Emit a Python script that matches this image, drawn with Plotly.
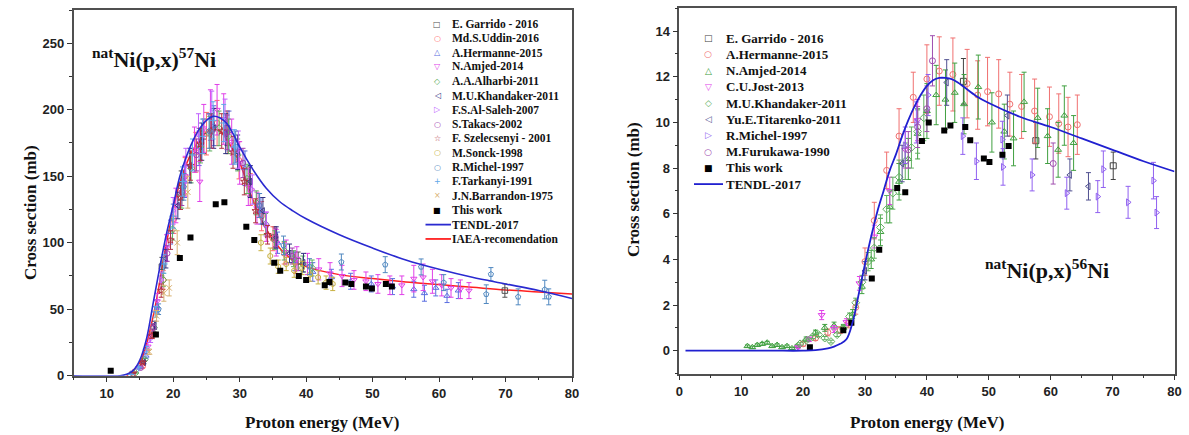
import plotly.graph_objects as go

# ================= LEFT PANEL : natNi(p,x)57Ni =================
L_garrido_E = [18.3, 21.2, 24.6, 28.1, 31.5, 35.2, 38.8, 69.9]
L_garrido_S = [82, 143, 180, 186, 146, 104, 86, 64]
L_garrido_D = [7, 11, 13, 13, 11, 8, 7, 5]

L_uddin_E = [15.4, 16.9, 18.5, 20.1, 21.8, 23.4, 25.0, 26.6, 28.2, 29.9, 31.6, 33.3, 35.0, 36.7, 38.4]
L_uddin_S = [7, 32, 72, 118, 150, 168, 182, 190, 183, 162, 140, 120, 103, 92, 85]
L_uddin_D = [1, 3, 7, 11, 14, 15, 16, 17, 16, 14, 12, 11, 9, 8, 8]

L_herm_E = [15.9, 17.6, 19.6, 21.7, 23.9, 26.1, 28.4, 30.8, 33.2, 35.7, 38.3, 41.0, 43.8, 46.7, 49.8, 53.0, 56.2, 57.8, 59.5, 61.2, 62.9]
L_herm_S = [15, 52, 108, 146, 172, 188, 184, 156, 124, 100, 86, 78, 74, 71, 69, 67, 65, 62, 66, 60, 64]
L_herm_D = [2, 5, 9, 12, 14, 15, 15, 13, 10, 8, 7, 7, 6, 6, 6, 6, 6, 6, 6, 5, 6]

L_amjed_E = [14.8, 16.2, 17.6, 19.0, 20.4, 21.8, 23.2, 24.0, 24.6, 25.6, 26.6, 27.6, 28.8, 30.0, 31.3, 32.6, 34.0, 35.5, 37.0,
             38.6, 40.2, 41.9, 43.6, 45.4, 47.2, 49.0, 50.8, 52.6, 54.4, 56.2, 57.6, 59.0, 60.4, 61.8, 63.2, 64.5]
L_amjed_S = [6, 22, 56, 96, 128, 150, 170, 146, 186, 196, 200, 193, 176, 160, 142, 126, 112, 100, 93,
             88, 84, 80, 77, 75, 72, 71, 69, 68, 68, 73, 74, 71, 68, 66, 65, 64]
L_amjed_D = [1, 3, 6, 10, 13, 15, 17, 15, 18, 19, 19, 19, 17, 16, 14, 12, 11, 10, 9,
             9, 8, 8, 8, 8, 7, 7, 7, 7, 7, 10, 10, 9, 8, 7, 7, 6]

L_alharbi_E = [14.3, 15.7, 17.1, 18.5, 19.9, 21.3, 22.7, 24.1, 25.5, 26.9, 28.3, 29.7, 31.1, 32.5, 33.9, 35.3, 36.7, 38.1, 39.5, 40.9]
L_alharbi_S = [2, 12, 36, 72, 110, 136, 156, 172, 182, 186, 180, 166, 148, 130, 114, 102, 94, 88, 84, 81]
L_alharbi_D = [0.5, 1, 3, 5, 8, 10, 11, 12, 13, 13, 13, 12, 11, 9, 8, 7, 7, 6, 6, 6]

L_khand_E = [15.6, 17.2, 18.9, 20.7, 22.5, 24.3, 26.1, 27.9, 29.7, 31.6, 33.5, 35.5, 37.5, 39.6]
L_khand_S = [10, 38, 88, 128, 158, 176, 186, 182, 168, 146, 124, 104, 92, 85]
L_khand_D = [1, 3, 7, 10, 13, 14, 15, 15, 13, 12, 10, 8, 7, 7]

L_saleh_E = [16.6, 18.2, 20.0, 21.9, 23.8, 25.8, 27.8, 29.8, 31.9, 34.0]
L_saleh_S = [28, 72, 124, 158, 182, 198, 192, 170, 140, 114]
L_saleh_D = [3, 6, 10, 13, 15, 16, 16, 14, 11, 9]

L_takacs_E = [15.1, 17.0, 19.1, 21.3, 23.5, 25.8, 28.1, 30.5, 32.9, 35.4, 37.9]
L_takacs_S = [6, 36, 92, 138, 166, 184, 183, 160, 128, 104, 90]
L_takacs_D = [0.5, 3, 6, 10, 12, 13, 13, 11, 9, 7, 6]

L_szel_E = [14.0, 15.4, 16.8, 18.2, 19.6, 21.1, 22.6, 24.1, 25.7, 27.3, 29.0, 30.7, 32.4, 34.2]
L_szel_S = [2, 10, 30, 64, 102, 134, 158, 174, 184, 184, 168, 146, 124, 106]
L_szel_D = [0.3, 1, 2, 5, 7, 9, 11, 12, 13, 13, 12, 10, 9, 7]

L_sonck_E = [33.2, 34.6, 35.8, 37.0, 38.2, 39.4, 40.6, 41.8, 43.0, 44.0]
L_sonck_S = [100, 90, 82, 84, 79, 81, 76, 74, 70, 69]
L_sonck_D = [6, 6, 5, 5, 5, 5, 5, 5, 5, 5]

L_michel_E = [17.8, 21.6, 25.4, 29.4, 33.0, 36.6, 40.5, 45.3, 51.9, 57.3, 60.7, 67.1, 67.8, 71.9, 75.9, 76.5]
L_michel_S = [50, 142, 184, 172, 128, 98, 82, 85.5, 83.5, 81.8, 70, 61.3, 76.3, 59.3, 64.8, 59.3]
L_michel_D = [4, 10, 13, 12, 9, 7, 6, 6, 6, 6, 6, 7, 5, 6, 7, 6]

L_tark_E = [13.6, 14.8, 16.0, 17.3, 18.6, 20.0, 21.4, 22.9, 24.4, 26.0, 27.6, 29.2]
L_tark_S = [1, 6, 20, 48, 84, 120, 146, 166, 180, 192, 190, 172]
L_tark_D = [0.2, 1, 2, 4, 7, 9, 11, 12, 13, 14, 14, 13]

L_barr_E = [16.4, 17.5, 18.6, 19.4, 20.6, 22.2]
L_barr_S = [18, 45, 62, 66, 100, 138]
L_barr_D = [2, 4, 6, 6, 9, 12]

L_this_E = [10.6, 17.4, 21.0, 22.6, 26.4, 27.7, 31.0, 32.2, 35.2, 36.1, 38.9, 40.0, 42.8, 43.5, 45.9, 46.8, 49.0, 49.9, 52.0, 52.9]
L_this_S = [3.7, 31, 88.5, 104, 129, 130.5, 112, 102, 85, 79, 75, 72, 68, 70.5, 70, 69, 67, 65.5, 69, 67]

L_tendl_E = [5, 12, 13, 14, 15, 16, 17, 18, 19, 20, 21, 22, 23, 24, 25, 26, 27, 28, 29, 30, 32, 34, 36, 38, 40, 45, 50, 55, 60, 65, 70, 75, 80]
L_tendl_S = [0, 0, 1, 4, 12, 28, 55, 82, 107, 128, 150, 165, 177, 186, 192, 195, 194, 190, 182, 172, 155, 141, 131, 124, 118, 106, 96, 87, 80, 74, 69, 64, 58]

L_iaea_E = [13, 15, 17, 19, 21, 23, 25, 26, 27, 28, 30, 32, 34, 36, 38, 40, 45, 50, 55, 60, 65, 70, 75, 80]
L_iaea_S = [0, 10, 45, 100, 145, 170, 183, 185, 184, 178, 160, 132, 110, 96, 87, 82, 76, 73, 70.5, 68.5, 66.5, 64.5, 63, 61.5]

# ================= RIGHT PANEL : natNi(p,x)56Ni =================
R_garrido_E = [45.9, 57.6, 70.1]
R_garrido_S = [11.8, 9.2, 8.1]
R_garrido_D = [1.0, 0.8, 0.6]

R_herm_E = [20.0, 22.0, 24.0, 26.0, 27.3, 28.5, 30.0, 31.5, 33.5, 35.5, 37.8, 40.0, 42.0, 44.2, 46.5, 48.2, 49.8, 51.6,
            53.4, 55.3, 57.4, 59.8, 61.3, 62.8, 64.3]
R_herm_S = [0.3, 0.55, 0.8, 0.9, 1.2, 1.9, 3.9, 5.7, 7.9, 9.4, 11.1, 11.9, 12.25, 12.1, 11.7, 11.2, 11.35, 11.25,
            10.8, 10.7, 10.5, 10.25, 9.95, 9.8, 9.9]
R_herm_D = [0.1, 0.1, 0.15, 0.15, 0.2, 0.3, 0.6, 0.8, 0.8, 1.2, 1.1, 1.5, 1.5, 1.6, 1.5, 1.5, 1.5, 1.5,
            1.4, 1.4, 1.4, 1.3, 1.3, 1.3, 1.3]

R_amjed_E = [11.0, 11.8, 12.6, 13.4, 14.2, 15.0, 15.8, 16.6, 17.4, 18.2, 19.0, 20.5, 22.0, 23.5, 25.0, 26.5, 28.0,
             29.5, 31.0, 32.5, 34.0, 35.5, 37.0, 38.5, 40.0, 41.5, 43.0, 44.5, 46.0, 48.3, 50.5, 52.5, 54.0, 55.7,
             57.9, 59.5, 61.2, 62.2, 63.7]
R_amjed_S = [0.2, 0.15, 0.25, 0.3, 0.35, 0.2, 0.25, 0.15, 0.2, 0.1, 0.2, 0.5, 0.8, 1.0, 1.1, 1.0, 1.6,
             2.8, 4.0, 5.2, 6.3, 7.4, 8.4, 9.5, 10.5, 11.2, 11.0, 11.3, 10.8, 11.55, 10.0, 9.6, 9.3, 10.9,
             10.2, 9.4, 8.8, 10.3, 9.1]
R_amjed_D = [0.05, 0.05, 0.05, 0.06, 0.06, 0.05, 0.05, 0.05, 0.05, 0.05, 0.05, 0.1, 0.1, 0.15, 0.15, 0.15, 0.2,
             0.3, 0.4, 0.6, 0.7, 0.8, 0.9, 1.1, 1.2, 1.3, 1.3, 1.3, 1.3, 1.4, 1.3, 1.2, 1.2, 1.3,
             1.3, 1.2, 1.2, 1.3, 1.2]

R_jost_E = [19.2, 21.0, 23.0, 25.0, 27.0, 29.1, 31.5, 34.0, 36.5, 38.5]
R_jost_S = [0.15, 0.5, 1.56, 0.95, 1.25, 2.95, 5.0, 7.0, 8.8, 10.1]
R_jost_D = [0.05, 0.1, 0.2, 0.15, 0.15, 0.3, 0.5, 0.6, 0.8, 0.9]

R_khand_E = [19.5, 20.5, 21.5, 22.5, 23.5, 24.5, 25.5, 26.5, 27.5, 28.5, 29.5, 30.5, 31.5, 32.5, 33.5, 34.5, 35.5,
             36.5, 37.5, 38.5, 39.5]
R_khand_S = [0.3, 0.45, 0.6, 0.7, 0.55, 0.4, 0.7, 1.0, 1.5, 2.1, 3.0, 3.9, 4.5, 5.4, 6.2, 6.9, 7.6,
             8.3, 8.9, 9.6, 10.2]
R_khand_D = [0.05, 0.06, 0.07, 0.08, 0.07, 0.06, 0.08, 0.1, 0.15, 0.2, 0.3, 0.4, 0.45, 0.55, 0.6, 0.7, 0.75,
             0.8, 0.9, 0.95, 1.0]

R_titar_E = [30.0, 36.0, 43.2, 53.0, 63.1, 66.1]
R_titar_S = [3.5, 8.2, 11.75, 10.3, 7.7, 7.2]
R_titar_D = [0.4, 0.8, 1.0, 0.9, 0.7, 0.6]

R_michel_E = [36.5, 38.3, 40.2, 45.8, 48.0, 52.2, 52.3, 57.0, 62.6, 67.6, 68.5, 72.5, 76.6, 77.1]
R_michel_S = [9.0, 10.0, 11.2, 9.4, 8.3, 9.25, 8.05, 7.7, 6.9, 6.75, 7.95, 6.5, 7.45, 6.05]
R_michel_D = [0.8, 0.9, 0.9, 0.8, 0.8, 0.8, 0.8, 0.7, 0.7, 0.7, 0.8, 0.7, 0.8, 0.7]

R_furu_E = [37.0, 38.5, 40.0, 40.9, 60.4]
R_furu_S = [8.8, 9.8, 10.6, 12.7, 8.2]
R_furu_D = [0.8, 0.9, 1.0, 1.1, 0.9]

R_this_E = [21.1, 26.5, 27.8, 31.1, 32.3, 35.2, 36.5, 39.2, 40.3, 42.8, 43.8, 46.2, 47.0, 49.2, 50.1, 52.2, 53.2]
R_this_S = [0.15, 0.9, 1.22, 3.16, 4.42, 7.13, 6.94, 9.19, 10.0, 9.65, 9.87, 9.8, 9.22, 8.42, 8.27, 8.58, 8.97]

R_tendl_E = [1, 5, 10, 15, 20, 22, 24, 25, 26, 27, 28, 29, 30, 31, 32, 33, 34, 35, 36, 37, 38, 39, 40, 41, 42, 43,
             44, 45, 46, 48, 50, 55, 60, 65, 70, 75, 80]
R_tendl_S = [0, 0, 0, 0, 0, 0.02, 0.1, 0.18, 0.3, 0.5, 1.25, 2.5, 3.8, 5.0, 6.1, 7.0, 7.9, 8.6, 9.4, 10.1, 10.7,
             11.2, 11.6, 11.85, 11.95, 11.95, 11.9, 11.75, 11.55, 11.15, 10.85, 10.25, 9.8, 9.3, 8.8, 8.3, 7.85]

# ---- series tables (name, E, sigma, err, symbol, colour, legend glyph) ----
left_series = [
    ("E. Garrido - 2016", L_garrido_E, L_garrido_S, L_garrido_D, "square-open", "#505050", "\u25a1"),
    ("Md.S.Uddin-2016", L_uddin_E, L_uddin_S, L_uddin_D, "circle-open", "#ff6a6a", "\u25cb"),
    ("A.Hermanne-2015", L_herm_E, L_herm_S, L_herm_D, "triangle-up-open", "#5a6ee0", "\u25b3"),
    ("N.Amjed-2014", L_amjed_E, L_amjed_S, L_amjed_D, "triangle-down-open", "#e040e8", "\u25bd"),
    ("A.A.Alharbi-2011", L_alharbi_E, L_alharbi_S, L_alharbi_D, "diamond-open", "#60b060", "\u25c7"),
    ("M.U.Khandaker-2011", L_khand_E, L_khand_S, L_khand_D, "triangle-left-open", "#303080", "\u25c1"),
    ("F.S.Al-Saleh-2007", L_saleh_E, L_saleh_S, L_saleh_D, "triangle-right-open", "#c060ff", "\u25b7"),
    ("S.Takacs-2002", L_takacs_E, L_takacs_S, L_takacs_D, "circle-open", "#a040b0", "\u25cb"),
    ("F. Szelecsenyi - 2001", L_szel_E, L_szel_S, L_szel_D, "star-open", "#b03040", "\u2606"),
    ("M.Sonck-1998", L_sonck_E, L_sonck_S, L_sonck_D, "hexagon-open", "#c8b040", "\u25cb"),
    ("R.Michel-1997", L_michel_E, L_michel_S, L_michel_D, "pentagon-open", "#5088c0", "\u25cb"),
    ("F.Tarkanyi-1991", L_tark_E, L_tark_S, L_tark_D, "cross-thin-open", "#60a8e8", "+"),
    ("J.N.Barrandon-1975", L_barr_E, L_barr_S, L_barr_D, "x-thin-open", "#d8b070", "\u00d7"),
]
right_series = [
    ("E. Garrido - 2016", R_garrido_E, R_garrido_S, R_garrido_D, "square-open", "#404040", "\u25a1"),
    ("A.Hermanne-2015", R_herm_E, R_herm_S, R_herm_D, "circle-open", "#f07070", "\u25cb"),
    ("N.Amjed-2014", R_amjed_E, R_amjed_S, R_amjed_D, "triangle-up-open", "#40a040", "\u25b3"),
    ("C.U.Jost-2013", R_jost_E, R_jost_S, R_jost_D, "triangle-down-open", "#e040e8", "\u25bd"),
    ("M.U.Khandaker-2011", R_khand_E, R_khand_S, R_khand_D, "diamond-open", "#60b060", "\u25c7"),
    ("Yu.E.Titarenko-2011", R_titar_E, R_titar_S, R_titar_D, "triangle-left-open", "#505090", "\u25c1"),
    ("R.Michel-1997", R_michel_E, R_michel_S, R_michel_D, "triangle-right-open", "#9060f0", "\u25b7"),
    ("M.Furukawa-1990", R_furu_E, R_furu_S, R_furu_D, "circle-open", "#a050b0", "\u25cb"),
]

W, H = 1189, 435
SERIF = "Liberation Serif"
SANS = "Liberation Sans"

fig = go.Figure()


def add_points(name, E, S, D, sym, col, xa, ya, size):
    fig.add_trace(go.Scatter(
        x=E, y=S, mode="markers", name=name, xaxis=xa, yaxis=ya, showlegend=False,
        marker=dict(symbol=sym, size=size, color=col, line=dict(color=col, width=1)),
        error_y=dict(type="data", array=D, visible=True, color=col, thickness=1, width=2.5),
    ))


# IAEA curve sits under the data in the peak region
fig.add_trace(go.Scatter(x=L_iaea_E, y=L_iaea_S, mode="lines", name="IAEA-recomendation", xaxis="x", yaxis="y",
                         showlegend=False, line=dict(color="#ff2020", width=1.5, shape="spline")))
for s in left_series:
    add_points(*s[:6], "x", "y", 5.5)
for s in right_series:
    add_points(*s[:6], "x2", "y2", 6)

fig.add_trace(go.Scatter(x=L_this_E, y=L_this_S, mode="markers", name="This work", xaxis="x", yaxis="y",
                         showlegend=False, marker=dict(symbol="square", size=6, color="black")))
fig.add_trace(go.Scatter(x=R_this_E, y=R_this_S, mode="markers", name="This work", xaxis="x2", yaxis="y2",
                         showlegend=False, marker=dict(symbol="square", size=6, color="black")))
fig.add_trace(go.Scatter(x=L_tendl_E, y=L_tendl_S, mode="lines", name="TENDL-2017", xaxis="x", yaxis="y",
                         showlegend=False, line=dict(color="#2a2ad0", width=1.6, shape="spline")))
fig.add_trace(go.Scatter(x=R_tendl_E, y=R_tendl_S, mode="lines", name="TENDL-2017", xaxis="x2", yaxis="y2",
                         showlegend=False, line=dict(color="#2020d0", width=1.8, shape="spline")))

# ---- axes ----
axis_common = dict(showgrid=False, zeroline=False, showline=True, mirror=True, linecolor="#505050",
                   linewidth=1.5, ticks="outside", ticklen=5, tickwidth=1.3, tickcolor="#333", automargin=False,
                   tickfont=dict(family=SANS, size=13, color="#222", weight="bold"))
fig.update_layout(
    width=W, height=H, margin=dict(l=0, r=0, t=0, b=0, autoexpand=False),
    paper_bgcolor="white", plot_bgcolor="white", showlegend=False,
    xaxis=dict(domain=[73.5 / W, 572 / W], range=[5, 80], dtick=10, tick0=0, anchor="y",
               minor=dict(dtick=5, ticks="outside", ticklen=3, tickcolor="#333"), **axis_common),
    yaxis=dict(domain=[(H - 375.7) / H, (H - 10) / H], range=[0, 275], dtick=50, tick0=0, anchor="x",
               minor=dict(dtick=25, ticks="outside", ticklen=3, tickcolor="#333"), **axis_common),
    xaxis2=dict(domain=[679.3 / W, 1174.5 / W], range=[0, 80], dtick=10, tick0=0, anchor="y2",
                minor=dict(dtick=5, ticks="outside", ticklen=3, tickcolor="#333"), **axis_common),
    yaxis2=dict(domain=[(H - 373.5) / H, (H - 8.3) / H], range=[-1, 15], dtick=2, tick0=0, anchor="x2",
                minor=dict(dtick=1, ticks="outside", ticklen=3, tickcolor="#333"), **axis_common),
)

ann = []
shapes = []


def px(xp):
    return xp / W


def py(yp):
    return 1 - yp / H


def title_font(size):
    return dict(family=SERIF, size=size, color="#111", weight="bold")


def note(x, y, text, font, xanchor="center", yanchor="middle", **kw):
    ann.append(dict(x=px(x), y=py(y), xref="paper", yref="paper", text=text, showarrow=False,
                    xanchor=xanchor, yanchor=yanchor, font=font, **kw))


# axis titles
for x, y in [(30, 213), (633, 190)]:
    note(x, y, "Cross section (mb)", title_font(17), textangle=-90)
for x in [322.5, 927]:
    note(x, 422, "Proton energy (MeV)", title_font(17))

# reaction labels
note(90, 58, "<sup>nat</sup>Ni(p,x)<sup>57</sup>Ni", title_font(22), xanchor="left")
note(1047, 269, "<sup>nat</sup>Ni(p,x)<sup>56</sup>Ni", title_font(22))


def legend(entries, sym_x, text_x, y0, dy, fsize, gsize, line_x0, line_x1):
    for i, (label, kind, col, glyph) in enumerate(entries):
        y = y0 + i * dy
        if kind == "line":
            shapes.append(dict(type="line", xref="paper", yref="paper", x0=px(line_x0), x1=px(line_x1),
                               y0=py(y), y1=py(y), line=dict(color=col, width=1.8)))
        else:
            note(sym_x, y, glyph, dict(family="DejaVu Sans", size=gsize, color=col))
        note(text_x, y, label, title_font(fsize), xanchor="left")


left_entries = [(s[0], "marker", s[5], s[6]) for s in left_series]
left_entries += [("This work", "marker", "black", "\u25a0"),
                 ("TENDL-2017", "line", "#2a2ad0", None),
                 ("IAEA-recomendation", "line", "#ff2020", None)]
right_entries = [(s[0], "marker", s[5], s[6]) for s in right_series]
right_entries += [("This work", "marker", "black", "\u25a0"),
                  ("TENDL-2017", "line", "#2020d0", None)]

legend(left_entries, 437.3, 450, 24, 14.33, 11.5, 8, 425.5, 451)
legend(right_entries, 708, 724, 38.3, 16.2, 13, 9, 694, 723)

fig.update_layout(annotations=ann, shapes=shapes)
fig.write_html("out.html", config={"displayModeBar": False},
               post_script="document.body.style.margin='0px';"
                           "document.documentElement.style.overflow='hidden';")
